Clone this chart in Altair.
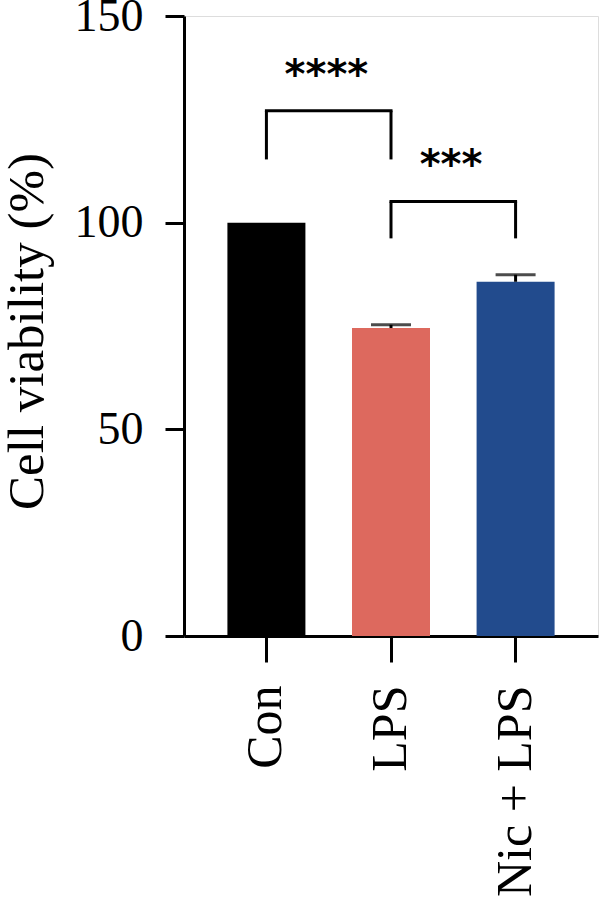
import altair as alt
import pandas as pd

groups = ["Con", "LPS", "Nic + LPS"]
means = [100.0, 74.5, 85.7]
sds = [0.0, 0.8, 1.7]
colors = ["#000000", "#DD695E", "#224B8D"]

# significance brackets: left group, right group, bracket top, leg foot, label, label height
sig_left = ["Con", "LPS"]
sig_right = ["LPS", "Nic + LPS"]
sig_top = [127.1, 105.1]
sig_foot = [115.3, 96.2]
sig_label = ["****", "***"]
sig_label_y = [135.5, 113.6]

df = pd.DataFrame({"group": groups, "mean": means, "sd": sds})
df["upper"] = df["mean"] + df["sd"]

sig = pd.DataFrame({"left": sig_left, "right": sig_right, "top": sig_top,
                    "foot": sig_foot, "label": sig_label, "ly": sig_label_y})
legs = pd.DataFrame({
    "g": sig_left + sig_right,
    "top": sig_top + sig_top,
    "foot": sig_foot + sig_foot,
})

FONT = "Liberation Serif"

xenc = alt.X("group:N", sort=groups,
             scale=alt.Scale(domain=groups, paddingInner=0.371, paddingOuter=0.347),
             axis=alt.Axis(title=None, labelAngle=270, labelAlign="right", labelBaseline="middle",
                           labelFont=FONT, labelFontSize=50, labelColor="black", labelLimit=0,
                           labelPadding=23, tickSize=26, tickWidth=3, tickColor="black",
                           domainWidth=3, domainColor="black"))
yscale = alt.Scale(domain=[0, 150], nice=False)

bars = alt.Chart(df).mark_bar(size=78).encode(
    x=xenc,
    y=alt.Y("mean:Q", scale=yscale,
            axis=alt.Axis(title="Cell viability (%)", values=[0, 50, 100, 150], grid=False,
                          labelFont=FONT, labelFontSize=46, labelColor="black", labelPadding=22,
                          tickSize=19, tickWidth=3, tickColor="black",
                          domainWidth=3, domainColor="black",
                          titleFont=FONT, titleFontSize=51, titleFontWeight="normal",
                          titleColor="black", titleX=-131, titleY=315, titleAlign="center",
                          titleAngle=270)),
    color=alt.Color("group:N", scale=alt.Scale(domain=groups, range=colors), legend=None),
)

err_line = alt.Chart(df).mark_rule(color="black", strokeWidth=3).encode(
    x=alt.X("group:N", sort=groups), y="mean:Q", y2="upper:Q")
err_cap = alt.Chart(df[df["sd"] > 0]).mark_tick(color="black", size=40, thickness=3).encode(
    x=alt.X("group:N", sort=groups), y="upper:Q")

br_h = alt.Chart(sig).mark_rule(color="black", strokeWidth=3, strokeCap="square").encode(
    x=alt.X("left:N", sort=groups), x2="right:N", y="top:Q")
br_v = alt.Chart(legs).mark_rule(color="black", strokeWidth=3).encode(
    x=alt.X("g:N", sort=groups), y="foot:Q", y2="top:Q")
stars = alt.Chart(sig).mark_text(font="DejaVu Sans", fontSize=40, fontWeight="bold",
                                 color="black", baseline="middle", dx=60).encode(
    x=alt.X("left:N", sort=groups), y="ly:Q", text="label:N")

chart = alt.layer(bars, err_line, err_cap, br_h, br_v, stars).properties(
    width=414, height=620,
    autosize=alt.AutoSizeParams(type="none"),
    padding={"left": 184, "top": 16, "right": 2, "bottom": 265},
).configure_view(stroke=None).configure(background="white")

chart.save("out.html", embed_options={"renderer": "svg", "actions": False})
